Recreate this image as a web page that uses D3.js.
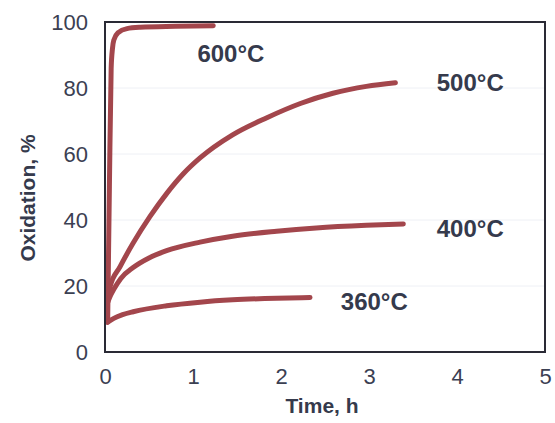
<!DOCTYPE html>
<html>
<head>
<meta charset="utf-8">
<script src="https://cdn.jsdelivr.net/npm/d3@7"></script>
<style>
  body { margin: 0; background: #fff; }
  svg text { font-family: "Liberation Sans", Arial, sans-serif; }
</style>
</head>
<body>
<div id="chart"></div>
<script>
// curves: time (h) vs oxidation (%)
var t600 = [0.03, 0.05, 0.07, 0.085, 0.1, 0.15, 0.25, 0.4, 0.8, 1.23];
var v600 = [9, 50, 86, 92, 94.5, 96.8, 98, 98.4, 98.7, 98.9];
var t500 = [0.03, 0.057, 0.17, 0.32, 0.51, 0.7, 0.89, 1.08, 1.45, 1.84, 2.22, 2.59, 2.97, 3.3];
var v500 = [16, 19.7, 25.8, 33, 41, 48, 54, 58.8, 65.8, 71, 75.3, 78.4, 80.5, 81.6];
var t400 = [0.03, 0.06, 0.1, 0.18, 0.32, 0.5, 0.7, 1.08, 1.45, 1.95, 2.4, 2.97, 3.39];
var v400 = [15, 17, 19, 22.3, 25.6, 28.5, 30.7, 33.3, 35.1, 36.6, 37.6, 38.4, 38.8];
var t360 = [0.03, 0.1, 0.2, 0.32, 0.7, 1.08, 1.45, 1.95, 2.33];
var v360 = [9, 10.2, 11.3, 12.2, 14, 15.1, 15.8, 16.3, 16.5];
var seriesNames = ["600\u00b0C", "500\u00b0C", "400\u00b0C", "360\u00b0C"];
var labelAt = [[1.05, 88], [3.77, 79], [3.77, 34.8], [2.68, 12.7]];
var xTicks = [0, 1, 2, 3, 4, 5];
var yTicks = [0, 20, 40, 60, 80, 100];

var width = 555, height = 423;
var margin = { top: 22, right: 10, bottom: 71, left: 105 };

var svg = d3.select("#chart").append("svg")
  .attr("width", width)
  .attr("height", height);

var x = d3.scaleLinear().domain([0, 5]).range([margin.left, 545]);
var y = d3.scaleLinear().domain([0, 100]).range([352, margin.top]);

// faint gridlines
svg.append("g")
  .selectAll("line")
  .data([20, 40, 60, 80])
  .enter()
  .append("line")
  .attr("x1", x(0)).attr("x2", x(5))
  .attr("y1", d => y(d)).attr("y2", d => y(d))
  .style("stroke", "#eef0f5")
  .style("stroke-width", 1);

var series = [
  d3.zip(t600, v600),
  d3.zip(t500, v500),
  d3.zip(t400, v400),
  d3.zip(t360, v360)
];

var line = d3.line()
  .x(d => x(d[0]))
  .y(d => y(d[1]))
  .curve(d3.curveMonotoneX);

svg.append("g")
  .selectAll("path")
  .data(series)
  .enter()
  .append("path")
  .attr("d", line)
  .style("fill", "none")
  .style("stroke", "#a3464c")
  .style("stroke-width", 5)
  .style("stroke-linecap", "round")
  .style("stroke-linejoin", "round");

// frame
svg.append("rect")
  .attr("x", x(0)).attr("y", y(100))
  .attr("width", x(5) - x(0))
  .attr("height", y(0) - y(100))
  .style("fill", "none")
  .style("stroke", "#2a2a35")
  .style("stroke-width", 2);

var xAxis = svg.append("g")
  .attr("transform", "translate(0," + y(0) + ")")
  .call(d3.axisBottom(x).tickValues(xTicks).tickSize(0).tickPadding(16).tickFormat(d3.format("d")));
var yAxis = svg.append("g")
  .attr("transform", "translate(" + x(0) + ",0)")
  .call(d3.axisLeft(y).tickValues(yTicks).tickSize(0).tickPadding(17));
[xAxis, yAxis].forEach(function (a) {
  a.select(".domain").remove();
  a.selectAll("text")
    .style("font-size", "22px")
    .style("fill", "#3b4052");
});
yAxis.selectAll("text").attr("dy", "0.36em");

svg.append("g")
  .selectAll("text")
  .data(seriesNames)
  .enter()
  .append("text")
  .attr("x", (d, i) => x(labelAt[i][0]))
  .attr("y", (d, i) => y(labelAt[i][1]))
  .style("font-size", "24px")
  .style("font-weight", "bold")
  .style("fill", "#353a4c")
  .text(d => d);

svg.append("text")
  .attr("x", 322)
  .attr("y", 413)
  .attr("text-anchor", "middle")
  .style("font-size", "21px")
  .style("font-weight", "bold")
  .style("fill", "#353a4c")
  .text("Time, h");

svg.append("text")
  .attr("transform", "translate(35,198) rotate(-90)")
  .attr("text-anchor", "middle")
  .style("font-size", "21px")
  .style("font-weight", "bold")
  .style("fill", "#353a4c")
  .text("Oxidation, %");
</script>
</body>
</html>
